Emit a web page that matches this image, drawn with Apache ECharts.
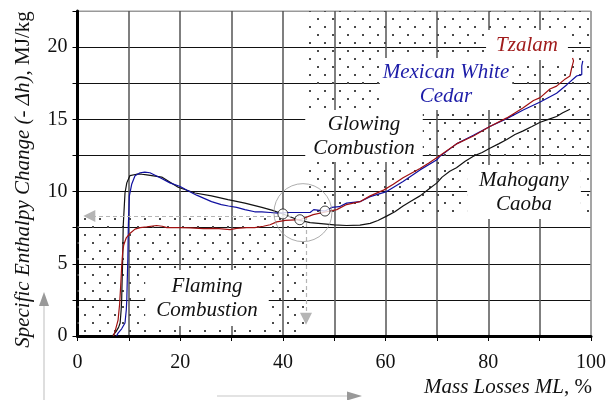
<!DOCTYPE html>
<html><head><meta charset="utf-8">
<script src="https://cdn.jsdelivr.net/npm/echarts@6/dist/echarts.min.js"></script>
<style>html,body{margin:0;padding:0;background:#fff}#c{width:616px;height:400px}</style>
</head><body><div id="c"></div><script>
// Tzalam (red)
const tzalam = [[7.0,0],[7.3,0.3],[7.9,1.1],[8.2,2.2],[8.4,3.4],[8.6,4.8],[8.8,5.8],[9.0,6.3],[9.5,6.8],[10.2,7.1],[11.2,7.4],[12.2,7.5],[13.5,7.55],[15.4,7.65],[16.5,7.6],[17.4,7.5],[20,7.5],[22,7.48],[24.5,7.43],[27,7.45],[29.7,7.36],[31,7.45],[32.9,7.5],[34.5,7.5],[36.2,7.6],[37.5,7.7],[38.8,7.9],[40.5,8.0],[43.3,8.05],[45.9,8.4],[48.5,8.6],[50.5,8.75],[52.4,9.1],[55,9.3],[57,9.7],[59.6,10.1],[61.5,10.5],[63.4,10.95],[66.7,11.6],[68.5,12.0],[70.6,12.5],[73.8,13.3],[77.1,13.85],[80.3,14.5],[83.6,15.1],[86.8,15.8],[88.8,16.3],[90.1,16.5],[92,17.1],[93.3,17.3],[95,17.8],[95.9,18.0],[96.2,18.5],[96.6,19.05],[96.4,19.25]];
// Mexican White Cedar (blue)
const cedar = [[7.6,0],[7.9,0.2],[8.6,0.5],[9.25,0.9],[9.5,1.8],[9.6,2.5],[9.7,4.0],[9.8,5.3],[9.9,7.6],[10.1,9.7],[10.55,10.5],[11.2,11.1],[12.2,11.3],[13.1,11.35],[14.1,11.3],[14.4,11.2],[16.1,10.95],[18,10.6],[20,10.35],[21.5,10.05],[23.2,9.75],[26.1,9.3],[28,9.1],[29.4,9.0],[31,8.9],[32.6,8.75],[34.5,8.6],[35.9,8.6],[37.5,8.55],[39.1,8.5],[41,8.55],[42.4,8.55],[45.3,8.55],[46,8.75],[48.2,8.65],[49.5,8.9],[51,8.95],[52.4,9.2],[55,9.3],[57,9.65],[60.2,10.0],[63.4,10.7],[66.7,11.5],[70,12.2],[70.6,12.45],[73.8,13.3],[77.1,13.9],[80.3,14.5],[83.6,15.05],[86.8,15.65],[90.1,16.2],[93.3,16.8],[95.3,17.4],[97.2,18.0],[98.2,18.1],[98.2,18.7],[98.4,19.05]];
// Mahogany Caoba (black)
const mahogany = [[6.8,0],[7.5,0.3],[8.0,0.6],[8.3,0.9],[8.5,1.8],[8.6,2.5],[8.7,4.0],[8.8,5.3],[8.9,7.6],[9.25,9.9],[9.6,10.6],[10.2,11.1],[11.5,11.2],[12.5,11.2],[13.5,11.15],[16.4,11.0],[19.6,10.3],[22.9,9.9],[26.1,9.7],[29.3,9.44],[32.6,9.2],[35.9,8.9],[38,8.7],[40,8.45],[43.3,8.0],[45.3,7.85],[48.5,7.75],[50,7.7],[52.4,7.65],[55,7.68],[57,7.8],[58.5,8.0],[60.2,8.3],[61.8,8.6],[63.4,9.0],[65,9.35],[66.7,9.7],[68.5,10.2],[70,10.6],[71,11.0],[72.5,11.4],[73.8,11.65],[75.5,12.1],[77.1,12.45],[78.8,12.7],[80.3,13.0],[82,13.3],[83.6,13.6],[85.2,13.95],[86.8,14.2],[88.5,14.5],[90.1,14.8],[91.7,15.0],[93.3,15.2],[94.5,15.45],[95.9,15.7]];
const transitionPoints = [[40,8.45],[43.3,8.05],[48.2,8.65]];
const transitionCircle = [[43.9,8.54]];
const flamingZone = [[0,0],[44.5,8.3]];
const glowingZone = [[44.5,8.3],[100,22.5]];
const arrowLeftEnd = [2.3,8.3];
const arrowDownEnd = [44.5,1.2];
const xTickLabels = [0,20,40,60,80,100];
const yTickLabels = [0,5,10,15,20];

const pc = document.createElement('canvas'); pc.width = 15; pc.height = 16;
const g = pc.getContext('2d'); g.fillStyle = '#4a4a4a';
g.fillRect(2,2,2,2); g.fillRect(9,10,2,2);
const dots = {image: pc, repeat: 'repeat'};

const serif = 'Liberation Serif';
const chart = echarts.init(document.getElementById('c'), null, {renderer:'canvas'});
const xSplitColors = Array(10).fill('#555').concat(['#999']);
const ySplitColors = Array(9).fill('#111').concat(['#999']);
function box(text, x, y, color, pad){
  return {type:'text', z:100, silent:true, style:{text:text, x:x, y:y, align:'center', verticalAlign:'middle',
    font:'italic 21px Liberation Serif', fill:color, backgroundColor:'#fff', padding:pad, lineHeight:24}};
}
const titleRich = {i:{fontFamily:serif, fontSize:21, fontStyle:'italic', color:'#111'}, n:{fontFamily:serif, fontSize:21, color:'#111'}};
chart.setOption({
  animation:false,
  grid:{left:77.5, right:25, top:11, bottom:64, show:true, borderColor:'#999', borderWidth:1, backgroundColor:'transparent'},
  xAxis:{type:'value', min:0, max:100, interval:10,
    name:'{i|Mass Losses ML}{n|, %}', nameLocation:'end', nameGap:1,
    nameTextStyle:{align:'right', verticalAlign:'top', padding:[41,0,0,0], rich:titleRich},
    axisLine:{show:true, onZero:false, lineStyle:{color:'#000', width:3}},
    axisTick:{show:true, length:5, lineStyle:{color:'#000', width:1}},
    axisLabel:{margin:17, fontFamily:serif, fontSize:20, color:'#111', formatter:v => xTickLabels.includes(v) ? String(v) : ''},
    splitLine:{show:true, lineStyle:{color:xSplitColors, width:1.5}}},
  yAxis:{type:'value', min:0, max:22.5, interval:2.5,
    name:'{i|Specific Enthalpy Change (- Δh)}{n|, MJ/kg}', nameLocation:'middle', nameRotate:90, nameGap:44,
    nameTextStyle:{padding:[0,12,0,0], rich:titleRich},
    axisLine:{show:true, onZero:false, lineStyle:{color:'#000', width:3}},
    axisTick:{show:true, length:5, lineStyle:{color:'#000', width:1}},
    axisLabel:{margin:10, fontFamily:serif, fontSize:20, color:'#111', formatter:v => yTickLabels.includes(v) ? String(v) : ''},
    splitLine:{show:true, lineStyle:{color:ySplitColors, width:1}}},
  series:[
    {type:'line', name:'Mahogany Caoba', data:mahogany, showSymbol:false, symbol:'none', z:3,
      lineStyle:{color:'#111', width:1.2}, emphasis:{disabled:true},
      markArea:{silent:true, itemStyle:{color:dots, opacity:1}, z:1,
        data:[[{coord:flamingZone[0]},{coord:flamingZone[1]}],[{coord:glowingZone[0]},{coord:glowingZone[1]}]]},
      markLine:{silent:true, symbol:['none','triangle'], symbolSize:12, label:{show:false},
        lineStyle:{color:'#b5b5b5', width:1.2, type:[4,3]}, itemStyle:{color:'#999'}, emphasis:{disabled:true},
        data:[[{coord:flamingZone[1]},{coord:arrowLeftEnd}],[{coord:flamingZone[1]},{coord:arrowDownEnd}]]}},
    {type:'line', name:'Mexican White Cedar', data:cedar, showSymbol:false, symbol:'none', z:4,
      lineStyle:{color:'#1010a0', width:1.2}, emphasis:{disabled:true}},
    {type:'line', name:'Tzalam', data:tzalam, showSymbol:false, symbol:'none', z:5,
      lineStyle:{color:'#a01010', width:1.2}, emphasis:{disabled:true}},
    {type:'scatter', data:transitionCircle, symbol:'circle', symbolSize:58, z:6, silent:true,
      itemStyle:{color:'rgba(0,0,0,0)', borderColor:'#999', borderWidth:1}},
    {type:'scatter', data:transitionPoints, symbol:'circle', symbolSize:10, z:7, silent:true,
      itemStyle:{color:'#fff', borderColor:'#111', borderWidth:1}}
  ],
  graphic:[
    box('Tzalam', 527, 45, '#a01c1c', [3,10]),
    box('Mexican White\nCedar', 446, 84, '#1c1ca8', [2,3]),
    box('Glowing\nCombustion', 364, 136, '#111', [2,8]),
    box('Mahogany\nCaoba', 524, 192, '#111', [3,12]),
    box('Flaming\nCombustion', 207, 298, '#111', [4,11]),
    {type:'line', silent:true, shape:{x1:44, y1:306, x2:44, y2:400}, style:{stroke:'#c8c8c8', lineWidth:1.2}},
    {type:'polygon', silent:true, shape:{points:[[44,292],[49,306],[39,306]]}, style:{fill:'#999'}},
    {type:'line', silent:true, shape:{x1:217, y1:396, x2:348, y2:396}, style:{stroke:'#c8c8c8', lineWidth:1.2}},
    {type:'polygon', silent:true, shape:{points:[[362,396],[347,391.5],[347,400.5]]}, style:{fill:'#999'}}
  ]
});
</script></body></html>
